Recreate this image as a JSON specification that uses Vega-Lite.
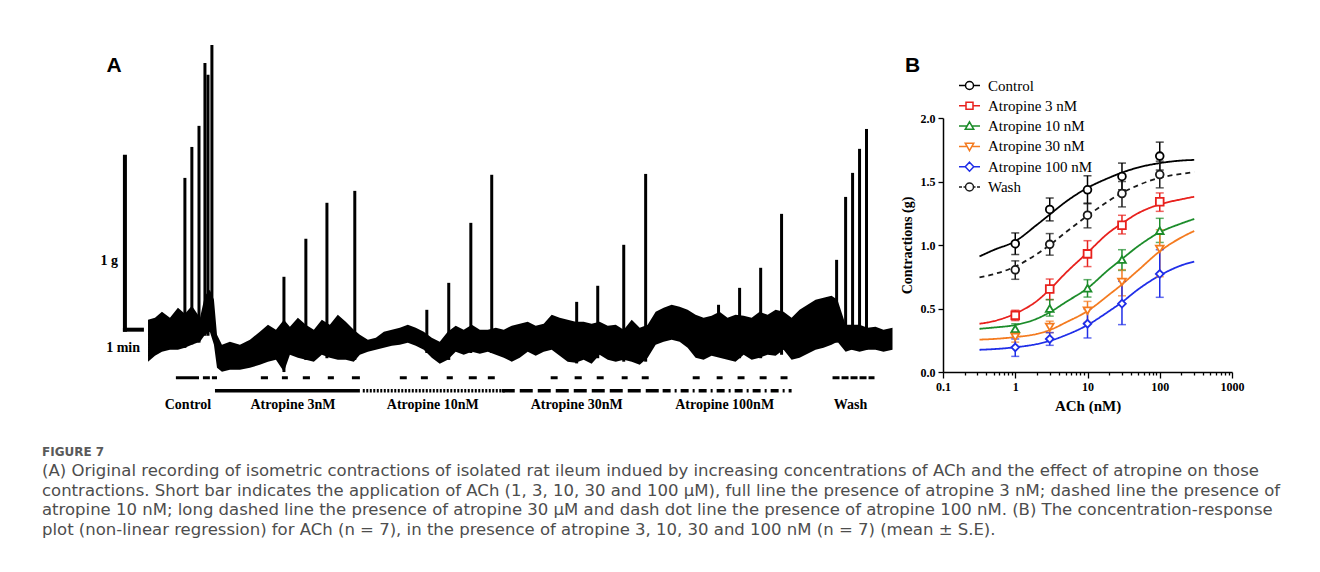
{
  "$schema": "https://vega.github.io/schema/vega-lite/v6.json",
  "background": "white",
  "padding": {"left": 42, "top": 28, "right": 10, "bottom": 10},
  "bounds": "flush",
  "spacing": 42,
  "resolve": {
    "scale": {"color": "independent", "shape": "independent", "strokeDash": "independent"},
    "legend": {"color": "independent", "shape": "independent", "strokeDash": "independent"}
  },
  "title": {
    "text": "FIGURE 7",
    "subtitle": [
      "(A) Original recording of isometric contractions of isolated rat ileum indued by increasing concentrations of ACh and the effect of atropine on those",
      "contractions. Short bar indicates the application of ACh (1, 3, 10, 30 and 100 μM), full line the presence of atropine 3 nM; dashed line the presence of",
      "atropine 10 nM; long dashed line the presence of atropine 30 μM and dash dot line the presence of atropine 100 nM. (B) The concentration-response",
      "plot (non-linear regression) for ACh (n = 7), in the presence of atropine 3, 10, 30 and 100 nM (n = 7) (mean ± S.E)."
    ],
    "orient": "bottom",
    "anchor": "start",
    "frame": "bounds",
    "offset": 30,
    "dx": -52,
    "font": "DejaVu Sans",
    "fontSize": 12,
    "fontWeight": "bold",
    "color": "#5a5a5a",
    "subtitleFont": "DejaVu Sans",
    "subtitleFontSize": 16.5,
    "subtitleColor": "#4d4d4d",
    "subtitleLineHeight": 19.7,
    "subtitlePadding": 4
  },
  "datasets": {
    "band": [
      {"t": 0.18, "hi": 0.462, "lo": 0.220}, {"t": 0.59, "hi": 0.474, "lo": 0.254},
      {"t": 1.00, "hi": 0.509, "lo": 0.277}, {"t": 1.47, "hi": 0.474, "lo": 0.289},
      {"t": 1.94, "hi": 0.532, "lo": 0.289}, {"t": 2.35, "hi": 0.497, "lo": 0.301},
      {"t": 2.76, "hi": 0.543, "lo": 0.318}, {"t": 3.24, "hi": 0.474, "lo": 0.335},
      {"t": 3.53, "hi": 0.601, "lo": 0.376}, {"t": 3.82, "hi": 0.636, "lo": 0.393},
      {"t": 4.06, "hi": 0.578, "lo": 0.318}, {"t": 4.24, "hi": 0.376, "lo": 0.185},
      {"t": 4.53, "hi": 0.318, "lo": 0.162}, {"t": 5.00, "hi": 0.335, "lo": 0.173},
      {"t": 5.59, "hi": 0.318, "lo": 0.173}, {"t": 6.18, "hi": 0.347, "lo": 0.185},
      {"t": 6.76, "hi": 0.393, "lo": 0.202}, {"t": 7.24, "hi": 0.434, "lo": 0.220},
      {"t": 7.71, "hi": 0.405, "lo": 0.231}, {"t": 8.18, "hi": 0.462, "lo": 0.162},
      {"t": 8.53, "hi": 0.422, "lo": 0.260}, {"t": 9.00, "hi": 0.474, "lo": 0.243},
      {"t": 9.47, "hi": 0.434, "lo": 0.231}, {"t": 9.94, "hi": 0.405, "lo": 0.220},
      {"t": 10.41, "hi": 0.462, "lo": 0.260}, {"t": 10.88, "hi": 0.434, "lo": 0.243},
      {"t": 11.35, "hi": 0.491, "lo": 0.231}, {"t": 11.82, "hi": 0.451, "lo": 0.231},
      {"t": 12.29, "hi": 0.405, "lo": 0.220}, {"t": 12.65, "hi": 0.376, "lo": 0.260},
      {"t": 13.12, "hi": 0.347, "lo": 0.277}, {"t": 13.59, "hi": 0.358, "lo": 0.289},
      {"t": 14.06, "hi": 0.393, "lo": 0.301}, {"t": 14.53, "hi": 0.405, "lo": 0.312},
      {"t": 15.00, "hi": 0.416, "lo": 0.318}, {"t": 15.47, "hi": 0.434, "lo": 0.329},
      {"t": 15.94, "hi": 0.416, "lo": 0.312}, {"t": 16.41, "hi": 0.393, "lo": 0.289},
      {"t": 16.88, "hi": 0.358, "lo": 0.243}, {"t": 17.35, "hi": 0.335, "lo": 0.208},
      {"t": 17.82, "hi": 0.393, "lo": 0.231}, {"t": 18.29, "hi": 0.428, "lo": 0.277},
      {"t": 18.76, "hi": 0.405, "lo": 0.260}, {"t": 19.24, "hi": 0.434, "lo": 0.277},
      {"t": 19.71, "hi": 0.405, "lo": 0.266}, {"t": 20.18, "hi": 0.405, "lo": 0.277},
      {"t": 20.65, "hi": 0.416, "lo": 0.260}, {"t": 21.12, "hi": 0.405, "lo": 0.243},
      {"t": 21.59, "hi": 0.428, "lo": 0.220}, {"t": 22.06, "hi": 0.439, "lo": 0.243},
      {"t": 22.53, "hi": 0.451, "lo": 0.277}, {"t": 23.00, "hi": 0.428, "lo": 0.254},
      {"t": 23.47, "hi": 0.439, "lo": 0.277}, {"t": 23.94, "hi": 0.491, "lo": 0.289},
      {"t": 24.41, "hi": 0.474, "lo": 0.254}, {"t": 24.88, "hi": 0.462, "lo": 0.220},
      {"t": 25.35, "hi": 0.451, "lo": 0.214}, {"t": 25.82, "hi": 0.451, "lo": 0.231},
      {"t": 26.29, "hi": 0.439, "lo": 0.208}, {"t": 26.76, "hi": 0.451, "lo": 0.260},
      {"t": 27.24, "hi": 0.428, "lo": 0.231}, {"t": 27.71, "hi": 0.434, "lo": 0.220},
      {"t": 28.18, "hi": 0.405, "lo": 0.231}, {"t": 28.65, "hi": 0.462, "lo": 0.220},
      {"t": 29.12, "hi": 0.416, "lo": 0.202}, {"t": 29.59, "hi": 0.434, "lo": 0.243},
      {"t": 30.06, "hi": 0.509, "lo": 0.318}, {"t": 30.53, "hi": 0.532, "lo": 0.335},
      {"t": 31.00, "hi": 0.549, "lo": 0.347}, {"t": 31.47, "hi": 0.538, "lo": 0.335},
      {"t": 31.94, "hi": 0.520, "lo": 0.301}, {"t": 32.41, "hi": 0.491, "lo": 0.243},
      {"t": 32.88, "hi": 0.474, "lo": 0.231}, {"t": 33.35, "hi": 0.486, "lo": 0.254},
      {"t": 33.82, "hi": 0.509, "lo": 0.243}, {"t": 34.29, "hi": 0.474, "lo": 0.231},
      {"t": 34.76, "hi": 0.491, "lo": 0.220}, {"t": 35.24, "hi": 0.486, "lo": 0.260},
      {"t": 35.71, "hi": 0.474, "lo": 0.231}, {"t": 36.18, "hi": 0.509, "lo": 0.243},
      {"t": 36.65, "hi": 0.491, "lo": 0.260}, {"t": 37.12, "hi": 0.520, "lo": 0.254},
      {"t": 37.59, "hi": 0.509, "lo": 0.289}, {"t": 38.06, "hi": 0.474, "lo": 0.231},
      {"t": 38.53, "hi": 0.520, "lo": 0.243}, {"t": 39.00, "hi": 0.549, "lo": 0.266},
      {"t": 39.47, "hi": 0.578, "lo": 0.289}, {"t": 39.94, "hi": 0.590, "lo": 0.301},
      {"t": 40.41, "hi": 0.601, "lo": 0.318}, {"t": 40.76, "hi": 0.578, "lo": 0.335},
      {"t": 41.24, "hi": 0.434, "lo": 0.277}, {"t": 41.59, "hi": 0.434, "lo": 0.289},
      {"t": 42.06, "hi": 0.434, "lo": 0.277}, {"t": 42.53, "hi": 0.416, "lo": 0.289},
      {"t": 43.00, "hi": 0.422, "lo": 0.289}, {"t": 43.47, "hi": 0.405, "lo": 0.277},
      {"t": 44.00, "hi": 0.416, "lo": 0.289}
    ],
    "spikes": [
      {"t": 2.35, "base": 0.30, "peak": 1.283}, {"t": 2.76, "base": 0.32, "peak": 1.462},
      {"t": 3.18, "base": 0.33, "peak": 1.584}, {"t": 3.53, "base": 0.37, "peak": 1.948},
      {"t": 3.71, "base": 0.37, "peak": 1.879}, {"t": 3.94, "base": 0.39, "peak": 2.052},
      {"t": 8.18, "base": 0.16, "peak": 0.711}, {"t": 9.47, "base": 0.23, "peak": 0.931},
      {"t": 10.71, "base": 0.24, "peak": 1.139}, {"t": 12.35, "base": 0.23, "peak": 1.208},
      {"t": 16.59, "base": 0.27, "peak": 0.520}, {"t": 17.88, "base": 0.23, "peak": 0.676},
      {"t": 19.18, "base": 0.27, "peak": 1.023}, {"t": 20.41, "base": 0.27, "peak": 1.301},
      {"t": 25.41, "base": 0.21, "peak": 0.566}, {"t": 26.65, "base": 0.24, "peak": 0.659},
      {"t": 28.18, "base": 0.22, "peak": 0.896}, {"t": 29.47, "base": 0.22, "peak": 1.306},
      {"t": 33.76, "base": 0.25, "peak": 0.549}, {"t": 35.00, "base": 0.24, "peak": 0.647},
      {"t": 36.24, "base": 0.24, "peak": 0.763}, {"t": 37.47, "base": 0.26, "peak": 1.075},
      {"t": 40.71, "base": 0.33, "peak": 0.809}, {"t": 41.24, "base": 0.29, "peak": 1.173},
      {"t": 41.65, "base": 0.29, "peak": 1.312}, {"t": 42.06, "base": 0.29, "peak": 1.451},
      {"t": 42.47, "base": 0.29, "peak": 1.566}
    ],
    "ach": [
      {"t0": 1.82, "t1": 3.18}, {"t0": 3.41, "t1": 3.82}, {"t0": 3.94, "t1": 4.24},
      {"t0": 6.82, "t1": 7.24}, {"t0": 8.06, "t1": 8.41}, {"t0": 9.29, "t1": 9.71},
      {"t0": 10.76, "t1": 11.12}, {"t0": 12.18, "t1": 12.65},
      {"t0": 15.00, "t1": 15.41}, {"t0": 16.24, "t1": 16.65}, {"t0": 17.76, "t1": 18.12},
      {"t0": 19.06, "t1": 19.53}, {"t0": 20.18, "t1": 20.59},
      {"t0": 23.88, "t1": 24.29}, {"t0": 25.29, "t1": 25.71}, {"t0": 26.59, "t1": 27.00},
      {"t0": 28.06, "t1": 28.41}, {"t0": 29.24, "t1": 29.65},
      {"t0": 32.24, "t1": 32.65}, {"t0": 33.65, "t1": 34.00}, {"t0": 34.88, "t1": 35.29},
      {"t0": 36.18, "t1": 36.59}, {"t0": 37.41, "t1": 37.82}
    ],
    "periods": [
      {"seg": "wash", "t0": 40.47, "t1": 42.94, "row": "ach"},
      {"seg": "atropine 3 nM", "t0": 4.12, "t1": 12.65, "row": "drug"},
      {"seg": "atropine 10 nM", "t0": 12.82, "t1": 21.18, "row": "drug"},
      {"seg": "atropine 30 nM", "t0": 21.0, "t1": 30.47, "row": "drug"},
      {"seg": "atropine 100 nM", "t0": 30.47, "t1": 38.06, "row": "drug"}
    ],
    "labels": [
      {"label": "Control", "t": 2.53}, {"label": "Atropine 3nM", "t": 8.71},
      {"label": "Atropine 10nM", "t": 16.94}, {"label": "Atropine 30nM", "t": 25.41},
      {"label": "Atropine 100nM", "t": 34.12}, {"label": "Wash", "t": 41.53}
    ],
    "scalebar": [
      {"t0": -1.18, "t1": -1.18, "g0": 0.405, "g1": 1.405},
      {"t0": -1.18, "t1": -0.18, "g0": 0.405, "g1": 0.405}
    ],
    "curves": [
      {"g": "Control", "x": 0.32, "y": 0.91}, {"g": "Control", "x": 0.5, "y": 0.96},
      {"g": "Control", "x": 1, "y": 1.03}, {"g": "Control", "x": 2, "y": 1.16},
      {"g": "Control", "x": 3, "y": 1.24}, {"g": "Control", "x": 5, "y": 1.34},
      {"g": "Control", "x": 10, "y": 1.45}, {"g": "Control", "x": 20, "y": 1.53},
      {"g": "Control", "x": 30, "y": 1.57}, {"g": "Control", "x": 50, "y": 1.61},
      {"g": "Control", "x": 100, "y": 1.645}, {"g": "Control", "x": 200, "y": 1.665},
      {"g": "Control", "x": 300, "y": 1.67},
      {"g": "Wash", "x": 0.32, "y": 0.745}, {"g": "Wash", "x": 0.5, "y": 0.77},
      {"g": "Wash", "x": 1, "y": 0.83}, {"g": "Wash", "x": 2, "y": 0.93},
      {"g": "Wash", "x": 3, "y": 1.0}, {"g": "Wash", "x": 5, "y": 1.10},
      {"g": "Wash", "x": 10, "y": 1.23}, {"g": "Wash", "x": 20, "y": 1.35},
      {"g": "Wash", "x": 30, "y": 1.41}, {"g": "Wash", "x": 50, "y": 1.47},
      {"g": "Wash", "x": 100, "y": 1.53}, {"g": "Wash", "x": 200, "y": 1.56},
      {"g": "Wash", "x": 300, "y": 1.575},
      {"g": "Atropine 3 nM", "x": 0.32, "y": 0.38}, {"g": "Atropine 3 nM", "x": 0.5, "y": 0.40},
      {"g": "Atropine 3 nM", "x": 1, "y": 0.46}, {"g": "Atropine 3 nM", "x": 2, "y": 0.56},
      {"g": "Atropine 3 nM", "x": 3, "y": 0.65}, {"g": "Atropine 3 nM", "x": 5, "y": 0.78},
      {"g": "Atropine 3 nM", "x": 10, "y": 0.94}, {"g": "Atropine 3 nM", "x": 20, "y": 1.10},
      {"g": "Atropine 3 nM", "x": 30, "y": 1.17}, {"g": "Atropine 3 nM", "x": 50, "y": 1.25},
      {"g": "Atropine 3 nM", "x": 100, "y": 1.32}, {"g": "Atropine 3 nM", "x": 200, "y": 1.36},
      {"g": "Atropine 3 nM", "x": 300, "y": 1.38},
      {"g": "Atropine 10 nM", "x": 0.32, "y": 0.34}, {"g": "Atropine 10 nM", "x": 0.5, "y": 0.35},
      {"g": "Atropine 10 nM", "x": 1, "y": 0.37}, {"g": "Atropine 10 nM", "x": 2, "y": 0.42},
      {"g": "Atropine 10 nM", "x": 3, "y": 0.47}, {"g": "Atropine 10 nM", "x": 5, "y": 0.55},
      {"g": "Atropine 10 nM", "x": 10, "y": 0.66}, {"g": "Atropine 10 nM", "x": 20, "y": 0.81},
      {"g": "Atropine 10 nM", "x": 30, "y": 0.89}, {"g": "Atropine 10 nM", "x": 50, "y": 0.99},
      {"g": "Atropine 10 nM", "x": 100, "y": 1.10}, {"g": "Atropine 10 nM", "x": 200, "y": 1.17},
      {"g": "Atropine 10 nM", "x": 300, "y": 1.205},
      {"g": "Atropine 30 nM", "x": 0.32, "y": 0.255}, {"g": "Atropine 30 nM", "x": 0.5, "y": 0.26},
      {"g": "Atropine 30 nM", "x": 1, "y": 0.275}, {"g": "Atropine 30 nM", "x": 2, "y": 0.30},
      {"g": "Atropine 30 nM", "x": 3, "y": 0.33}, {"g": "Atropine 30 nM", "x": 5, "y": 0.39},
      {"g": "Atropine 30 nM", "x": 10, "y": 0.48}, {"g": "Atropine 30 nM", "x": 20, "y": 0.61},
      {"g": "Atropine 30 nM", "x": 30, "y": 0.69}, {"g": "Atropine 30 nM", "x": 50, "y": 0.80},
      {"g": "Atropine 30 nM", "x": 100, "y": 0.95}, {"g": "Atropine 30 nM", "x": 200, "y": 1.06},
      {"g": "Atropine 30 nM", "x": 300, "y": 1.11},
      {"g": "Atropine 100 nM", "x": 0.32, "y": 0.175}, {"g": "Atropine 100 nM", "x": 0.5, "y": 0.18},
      {"g": "Atropine 100 nM", "x": 1, "y": 0.195}, {"g": "Atropine 100 nM", "x": 2, "y": 0.22},
      {"g": "Atropine 100 nM", "x": 3, "y": 0.245}, {"g": "Atropine 100 nM", "x": 5, "y": 0.29},
      {"g": "Atropine 100 nM", "x": 10, "y": 0.37}, {"g": "Atropine 100 nM", "x": 20, "y": 0.48},
      {"g": "Atropine 100 nM", "x": 30, "y": 0.55}, {"g": "Atropine 100 nM", "x": 50, "y": 0.65},
      {"g": "Atropine 100 nM", "x": 100, "y": 0.76}, {"g": "Atropine 100 nM", "x": 200, "y": 0.84},
      {"g": "Atropine 100 nM", "x": 300, "y": 0.87}
    ],
    "pts": [
      {"g": "Control", "x": 1, "m": 1.01, "lo": 0.925, "hi": 1.095},
      {"g": "Control", "x": 3, "m": 1.28, "lo": 1.19, "hi": 1.37},
      {"g": "Control", "x": 10, "m": 1.435, "lo": 1.325, "hi": 1.545},
      {"g": "Control", "x": 30, "m": 1.54, "lo": 1.435, "hi": 1.645},
      {"g": "Control", "x": 100, "m": 1.70, "lo": 1.59, "hi": 1.81},
      {"g": "Wash", "x": 1, "m": 0.805, "lo": 0.73, "hi": 0.875},
      {"g": "Wash", "x": 3, "m": 1.005, "lo": 0.92, "hi": 1.09},
      {"g": "Wash", "x": 10, "m": 1.235, "lo": 1.135, "hi": 1.33},
      {"g": "Wash", "x": 30, "m": 1.405, "lo": 1.30, "hi": 1.50},
      {"g": "Wash", "x": 100, "m": 1.555, "lo": 1.45, "hi": 1.66},
      {"g": "Atropine 3 nM", "x": 1, "m": 0.446, "lo": 0.405, "hi": 0.486},
      {"g": "Atropine 3 nM", "x": 3, "m": 0.654, "lo": 0.57, "hi": 0.732},
      {"g": "Atropine 3 nM", "x": 10, "m": 0.93, "lo": 0.83, "hi": 1.034},
      {"g": "Atropine 3 nM", "x": 30, "m": 1.155, "lo": 1.087, "hi": 1.234},
      {"g": "Atropine 3 nM", "x": 100, "m": 1.34, "lo": 1.265, "hi": 1.41},
      {"g": "Atropine 10 nM", "x": 1, "m": 0.34, "lo": 0.30, "hi": 0.38},
      {"g": "Atropine 10 nM", "x": 3, "m": 0.50, "lo": 0.44, "hi": 0.57},
      {"g": "Atropine 10 nM", "x": 10, "m": 0.66, "lo": 0.59, "hi": 0.727},
      {"g": "Atropine 10 nM", "x": 30, "m": 0.885, "lo": 0.80, "hi": 0.963},
      {"g": "Atropine 10 nM", "x": 100, "m": 1.113, "lo": 1.02, "hi": 1.21},
      {"g": "Atropine 30 nM", "x": 1, "m": 0.276, "lo": 0.235, "hi": 0.315},
      {"g": "Atropine 30 nM", "x": 3, "m": 0.354, "lo": 0.31, "hi": 0.40},
      {"g": "Atropine 30 nM", "x": 10, "m": 0.483, "lo": 0.39, "hi": 0.556},
      {"g": "Atropine 30 nM", "x": 30, "m": 0.709, "lo": 0.60, "hi": 0.806},
      {"g": "Atropine 30 nM", "x": 100, "m": 0.969, "lo": 0.75, "hi": 1.12},
      {"g": "Atropine 100 nM", "x": 1, "m": 0.194, "lo": 0.123, "hi": 0.26},
      {"g": "Atropine 100 nM", "x": 3, "m": 0.26, "lo": 0.21, "hi": 0.31},
      {"g": "Atropine 100 nM", "x": 10, "m": 0.38, "lo": 0.268, "hi": 0.496},
      {"g": "Atropine 100 nM", "x": 30, "m": 0.538, "lo": 0.373, "hi": 0.714},
      {"g": "Atropine 100 nM", "x": 100, "m": 0.772, "lo": 0.588, "hi": 0.963}
    ]
  },
  "hconcat": [
    {
      "width": 807,
      "height": 389,
      "encoding": {
        "x": {"type": "quantitative", "scale": {"domain": [-3, 44.5], "nice": false, "zero": false}, "axis": null},
        "y": {"type": "quantitative", "scale": {"domain": [-0.1, 2.15], "nice": false, "zero": false}, "axis": null}
      },
      "layer": [
        {
          "data": {"name": "band"},
          "mark": {"type": "area", "color": "black"},
          "encoding": {
            "x": {"field": "t", "type": "quantitative"},
            "y": {"field": "hi", "type": "quantitative"},
            "y2": {"field": "lo"}
          }
        },
        {
          "data": {"name": "spikes"},
          "mark": {"type": "rule", "color": "black", "strokeWidth": 3},
          "encoding": {
            "x": {"field": "t", "type": "quantitative"},
            "y": {"field": "base", "type": "quantitative"},
            "y2": {"field": "peak"}
          }
        },
        {
          "data": {"name": "ach"},
          "mark": {"type": "rule", "color": "black", "strokeWidth": 3},
          "encoding": {
            "x": {"field": "t0", "type": "quantitative"},
            "x2": {"field": "t1"},
            "y": {"datum": 0.127}
          }
        },
        {
          "data": {"name": "periods"},
          "transform": [{"filter": "datum.row === 'drug'"}],
          "mark": {"type": "rule", "color": "black", "strokeWidth": 3.5},
          "encoding": {
            "x": {"field": "t0", "type": "quantitative"},
            "x2": {"field": "t1"},
            "y": {"datum": 0.052},
            "strokeDash": {
              "field": "seg",
              "type": "nominal",
              "scale": {
                "domain": ["wash", "atropine 3 nM", "atropine 10 nM", "atropine 30 nM", "atropine 100 nM"],
                "range": [[7, 2], [1, 0], [2, 1.5], [13, 5], [8, 4, 2, 4]]
              },
              "legend": null
            }
          }
        },
        {
          "data": {"name": "periods"},
          "transform": [{"filter": "datum.row === 'ach'"}],
          "mark": {"type": "rule", "color": "black", "strokeWidth": 3},
          "encoding": {
            "x": {"field": "t0", "type": "quantitative"},
            "x2": {"field": "t1"},
            "y": {"datum": 0.127},
            "strokeDash": {"field": "seg", "type": "nominal", "legend": null}
          }
        },
        {
          "data": {"name": "scalebar"},
          "mark": {"type": "rule", "color": "black", "strokeWidth": 4, "strokeCap": "square"},
          "encoding": {
            "x": {"field": "t0", "type": "quantitative"},
            "x2": {"field": "t1"},
            "y": {"field": "g0", "type": "quantitative"},
            "y2": {"field": "g1"}
          }
        },
        {
          "data": {"name": "labels"},
          "mark": {"type": "text", "font": "Liberation Serif", "fontWeight": "bold", "fontSize": 14, "color": "black", "baseline": "middle", "align": "center"},
          "encoding": {
            "x": {"field": "t", "type": "quantitative"},
            "y": {"datum": -0.029},
            "text": {"field": "label"}
          }
        },
        {
          "data": {"values": [{}]},
          "mark": {"type": "text", "font": "Liberation Serif", "fontWeight": "bold", "fontSize": 14, "color": "black", "baseline": "middle", "align": "right"},
          "encoding": {"x": {"datum": -1.59}, "y": {"datum": 0.80}, "text": {"value": "1 g"}}
        },
        {
          "data": {"values": [{}]},
          "mark": {"type": "text", "font": "Liberation Serif", "fontWeight": "bold", "fontSize": 14, "color": "black", "baseline": "middle", "align": "center"},
          "encoding": {"x": {"datum": -1.29}, "y": {"datum": 0.30}, "text": {"value": "1 min"}}
        },
        {
          "data": {"values": [{"panel": "A", "t": -1.82}, {"panel": "B", "t": 45.18}]},
          "mark": {"type": "text", "font": "Liberation Sans", "fontWeight": "bold", "fontSize": 21, "color": "black", "baseline": "middle", "align": "center"},
          "encoding": {"x": {"field": "t", "type": "quantitative"}, "y": {"datum": 1.93}, "text": {"field": "panel"}}
        }
      ]
    },
    {
      "width": 289,
      "height": 344,
      "resolve": {
        "scale": {"color": "independent", "shape": "independent"},
        "legend": {"color": "independent", "shape": "independent"}
      },
      "encoding": {
        "x": {
          "field": "x",
          "type": "quantitative",
          "scale": {"type": "log", "domain": [0.1, 1000], "nice": false},
          "axis": {
            "values": [0.1, 0.2, 0.3, 0.4, 0.5, 0.6, 0.7, 0.8, 0.9, 1, 2, 3, 4, 5, 6, 7, 8, 9, 10, 20, 30, 40, 50, 60, 70, 80, 90, 100, 200, 300, 400, 500, 600, 700, 800, 900, 1000],
            "format": "~g",
            "labelExpr": "indexof(['0.1', '1', '10', '100', '1000'], datum.label) >= 0 ? datum.label : ''",
            "tickSize": {"condition": {"test": "datum.value == 0.1 || datum.value == 1 || datum.value == 10 || datum.value == 100 || datum.value == 1000", "value": 6}, "value": 3},
            "labelFlush": false,
            "labelOverlap": false,
            "labelFont": "Liberation Serif",
            "labelFontWeight": "bold",
            "labelFontSize": 12,
            "labelColor": "black",
            "labelPadding": 3,
            "domainColor": "black",
            "domainWidth": 1.5,
            "tickColor": "black",
            "tickWidth": 1.3,
            "grid": false,
            "title": "ACh (nM)",
            "titleFont": "Liberation Serif",
            "titleFontSize": 15,
            "titleFontWeight": "bold",
            "titleColor": "black",
            "titlePadding": 6
          }
        }
      },
      "layer": [
        {
          "data": {"name": "curves"},
          "mark": {"type": "line", "strokeWidth": 1.8, "interpolate": "monotone"},
          "encoding": {
            "y": {
              "field": "y",
              "type": "quantitative",
              "title": "Contractions (g)",
              "scale": {"domain": [0, 2], "range": [344, 90], "nice": false, "zero": false},
              "axis": {
                "values": [0, 0.5, 1, 1.5, 2],
                "format": ".1f",
                "tickSize": 5,
                "labelFont": "Liberation Serif",
                "labelFontWeight": "bold",
                "labelFontSize": 12,
                "labelColor": "black",
                "labelPadding": 3,
                "domainColor": "black",
                "domainWidth": 1.5,
                "tickColor": "black",
                "tickWidth": 1.3,
                "grid": false,
                "titleFont": "Liberation Serif",
                "titleFontSize": 14,
                "titleFontWeight": "bold",
                "titleColor": "black",
                "titlePadding": 6
              }
            },
            "color": {
              "field": "g",
              "type": "nominal",
              "scale": {
                "domain": ["Control", "Atropine 3 nM", "Atropine 10 nM", "Atropine 30 nM", "Atropine 100 nM", "Wash"],
                "range": ["#000000", "#e8211d", "#1c8c2a", "#f47b20", "#1f2ee8", "#1a1a1a"]
              },
              "legend": null
            },
            "strokeDash": {
              "field": "g",
              "type": "nominal",
              "scale": {
                "domain": ["Control", "Atropine 3 nM", "Atropine 10 nM", "Atropine 30 nM", "Atropine 100 nM", "Wash"],
                "range": [[1, 0], [1, 0], [1, 0], [1, 0], [1, 0], [5, 4]]
              },
              "legend": null
            }
          }
        },
        {
          "data": {"name": "pts"},
          "mark": {"type": "errorbar", "ticks": {"size": 8}, "thickness": 1.5},
          "encoding": {
            "y": {"field": "lo", "type": "quantitative", "title": "Contractions (g)"},
            "y2": {"field": "hi"},
            "color": {
              "field": "g",
              "type": "nominal",
              "scale": {
                "domain": ["Control", "Atropine 3 nM", "Atropine 10 nM", "Atropine 30 nM", "Atropine 100 nM", "Wash"],
                "range": ["#000000", "#e8211d", "#1c8c2a", "#f47b20", "#1f2ee8", "#1a1a1a"]
              },
              "legend": null
            }
          }
        },
        {
          "data": {"name": "pts"},
          "mark": {"type": "point", "filled": false, "fill": "white", "fillOpacity": 1, "opacity": 1, "size": 60, "strokeWidth": 1.8},
          "encoding": {
            "y": {"field": "m", "type": "quantitative", "title": "Contractions (g)"},
            "color": {
              "field": "g",
              "type": "nominal",
              "scale": {
                "domain": ["Control", "Atropine 3 nM", "Atropine 10 nM", "Atropine 30 nM", "Atropine 100 nM", "Wash"],
                "range": ["#000000", "#e8211d", "#1c8c2a", "#f47b20", "#1f2ee8", "#1a1a1a"]
              },
              "legend": null
            },
            "shape": {
              "field": "g",
              "type": "nominal",
              "scale": {
                "domain": ["Control", "Atropine 3 nM", "Atropine 10 nM", "Atropine 30 nM", "Atropine 100 nM", "Wash"],
                "range": ["circle", "square", "triangle-up", "triangle-down", "diamond", "circle"]
              },
              "legend": null
            }
          }
        },
        {
          "data": {"name": "pts"},
          "transform": [{"filter": "false"}],
          "mark": {"type": "point", "filled": false, "opacity": 1, "strokeWidth": 1.5},
          "encoding": {
            "y": {"field": "m", "type": "quantitative", "title": "Contractions (g)"},
            "color": {
              "field": "g",
              "type": "nominal",
              "scale": {
                "domain": ["Control", "Atropine 3 nM", "Atropine 10 nM", "Atropine 30 nM", "Atropine 100 nM", "Wash"],
                "range": ["#000000", "#e8211d", "#1c8c2a", "#f47b20", "#1f2ee8", "#1a1a1a"]
              },
              "legend": {
                "orient": "none",
                "legendX": 19,
                "legendY": 50,
                "title": null,
                "padding": 0,
                "labelFont": "Liberation Serif",
                "labelFontSize": 15,
                "labelColor": "black",
                "labelOffset": 11,
                "symbolSize": 100,
                "symbolStrokeWidth": 1.5,
                "symbolOpacity": 1,
                "rowPadding": 4.3
              }
            },
            "shape": {
              "field": "g",
              "type": "nominal",
              "scale": {
                "domain": ["Control", "Atropine 3 nM", "Atropine 10 nM", "Atropine 30 nM", "Atropine 100 nM", "Wash"],
                "range": [
                  "M-2.1,0H-0.8M0.8,0H2.1M0.8,0A0.8,0.8,0,1,1,-0.8,0A0.8,0.8,0,1,1,0.8,0Z",
                  "M-2.1,0H-0.7M0.7,0H2.1M-0.7,-0.7H0.7V0.7H-0.7Z",
                  "M-2.1,0H-0.6M0.6,0H2.1M0,-0.85L0.85,0.65H-0.85Z",
                  "M-2.1,0H-0.6M0.6,0H2.1M0,0.85L0.85,-0.65H-0.85Z",
                  "M-2.1,0H-0.85M0.85,0H2.1M0,-0.9L0.85,0L0,0.9L-0.85,0Z",
                  "M-2.1,0H-1.5M-1.2,0H-0.8M0.8,0H1.2M1.5,0H2.1M0.8,0A0.8,0.8,0,1,1,-0.8,0A0.8,0.8,0,1,1,0.8,0Z"
                ]
              },
              "legend": {
                "orient": "none",
                "legendX": 19,
                "legendY": 50,
                "title": null,
                "padding": 0,
                "labelFont": "Liberation Serif",
                "labelFontSize": 15,
                "labelColor": "black",
                "labelOffset": 11,
                "symbolSize": 100,
                "symbolStrokeWidth": 1.5,
                "symbolOpacity": 1,
                "rowPadding": 4.3
              }
            }
          }
        }
      ]
    }
  ],
  "config": {
    "view": {"stroke": null}
  }
}
